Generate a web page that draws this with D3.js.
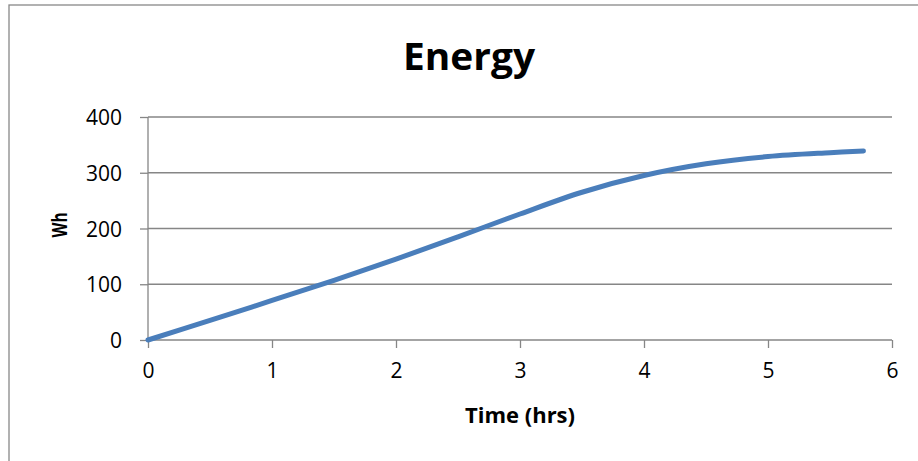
<!DOCTYPE html>
<html>
<head>
<meta charset="utf-8">
<script src="https://cdn.jsdelivr.net/npm/d3@7"></script>
<style>
  html, body { margin: 0; padding: 0; background: #fff; }
  svg { display: block; }
  text { font-family: "Open Sans", "Noto Sans", sans-serif; fill: #000; }
</style>
</head>
<body>
<svg id="chart" width="918" height="461"></svg>
<script>
// Energy accumulated over time
const timeHrs = [0, 0.5, 1, 1.5, 2, 2.5, 3, 3.5, 4, 4.5, 5, 5.5, 5.77];
const energyWh = [0, 35, 71, 107, 145, 185, 226, 265, 295, 316, 329, 336, 339];
const xTicks = [0, 1, 2, 3, 4, 5, 6];
const yTicks = [0, 100, 200, 300, 400];

const svg = d3.select("#chart");
const plot = { left: 148, right: 892, top: 117, bottom: 340 };

// Outer chart frame
svg.append("rect")
  .attr("x", 9).attr("y", 5)
  .attr("width", 930).attr("height", 480)
  .attr("fill", "#fff")
  .attr("stroke", "#888").attr("stroke-width", 1.3);

const x = d3.scaleLinear().domain([0, 6]).range([plot.left, plot.right]);
const y = d3.scaleLinear().domain([0, 400]).range([plot.bottom, plot.top]);

const gridColor = "#868686";

// Horizontal gridlines
svg.append("g")
  .selectAll("line")
  .data(yTicks.filter(d => d > 0))
  .join("line")
  .attr("x1", plot.left).attr("x2", plot.right)
  .attr("y1", d => y(d)).attr("y2", d => y(d))
  .attr("stroke", gridColor).attr("stroke-width", 1.3);

// Y axis
const yAxis = svg.append("g")
  .attr("transform", `translate(${plot.left},0)`)
  .call(d3.axisLeft(y).tickValues(yTicks).tickSize(8).tickPadding(18).tickFormat(d3.format("d")));
yAxis.select(".domain").attr("stroke", gridColor).attr("stroke-width", 1.3).attr("d", `M0,${plot.top}V${plot.bottom}`);
yAxis.selectAll(".tick line").attr("stroke", gridColor).attr("stroke-width", 1.3);
yAxis.selectAll(".tick text").attr("font-size", 21).attr("fill", "#000")
  .style("font-family", '"Open Sans", sans-serif').attr("dy", "0.36em");

// X axis
const xAxis = svg.append("g")
  .attr("transform", `translate(0,${plot.bottom})`)
  .call(d3.axisBottom(x).tickValues(xTicks).tickSize(8).tickPadding(15).tickFormat(d3.format("d")));
xAxis.select(".domain").attr("stroke", gridColor).attr("stroke-width", 1.3).attr("d", `M${plot.left},0H${plot.right}`);
xAxis.selectAll(".tick line").attr("stroke", gridColor).attr("stroke-width", 1.3);
xAxis.selectAll(".tick text").attr("font-size", 21).attr("fill", "#000")
  .style("font-family", '"Open Sans", sans-serif');

// Energy curve
const line = d3.line()
  .x((d, i) => x(timeHrs[i]))
  .y(d => y(d))
  .curve(d3.curveCatmullRom.alpha(0.5));

svg.append("path")
  .datum(energyWh)
  .attr("d", line)
  .attr("fill", "none")
  .attr("stroke", "#4a7ebb")
  .attr("stroke-width", 5)
  .attr("stroke-linecap", "round")
  .attr("stroke-linejoin", "round");

// Titles
svg.append("text")
  .attr("x", 469).attr("y", 70)
  .attr("text-anchor", "middle")
  .attr("font-size", 37).attr("font-weight", "bold")
  .attr("textLength", 132).attr("lengthAdjust", "spacingAndGlyphs")
  .text("Energy");

svg.append("text")
  .attr("x", 520).attr("y", 423)
  .attr("text-anchor", "middle")
  .attr("font-size", 21).attr("font-weight", "bold")
  .attr("textLength", 110).attr("lengthAdjust", "spacingAndGlyphs")
  .text("Time (hrs)");

svg.append("text")
  .attr("transform", "translate(67,225) rotate(-90)")
  .attr("text-anchor", "middle")
  .attr("font-size", 21).attr("font-weight", "bold")
  .attr("textLength", 25).attr("lengthAdjust", "spacingAndGlyphs")
  .text("Wh");
</script>
</body>
</html>
